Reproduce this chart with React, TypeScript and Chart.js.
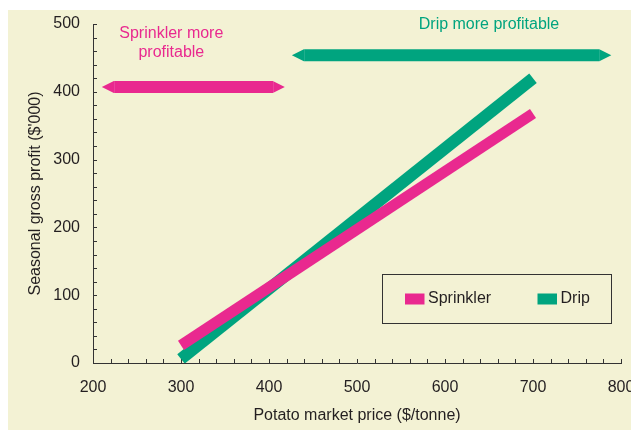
import React, { useEffect, useRef } from "react";
import { Chart, registerables } from "chart.js";

Chart.register(...registerables);

// Axis ranges and labelled tick values
const priceMin = 200;
const priceMax = 800;
const priceStep = 100;
const profitMin = 0;
const profitMax = 500;
const profitStep = 100;
const minorStep = 20;

// Gross profit lines ($'000) against potato price ($/tonne)
const seriesNames = ["Sprinkler", "Drip"];
const seriesColors = ["#e9298f", "#00a47f"];
const seriesWidths = [11, 12];
const prices = [300, 700];
const sprinklerProfit = [26, 368];
const dripProfit = [6, 420];

// Price ranges where each system wins, with the level the arrows sit at
const sprinklerBetterRange = [210, 418];
const sprinklerArrowLevel = 407;
const dripBetterRange = [426, 789];
const dripArrowLevel = 454;

const noteSprinkler = ["Sprinkler more", "profitable"];
const noteDrip = ["Drip more profitable"];

const xTitle = "Potato market price ($/tonne)";
const yTitle = "Seasonal gross profit ($'000)";

const FONT = "'Liberation Sans', Arial, Helvetica, sans-serif";
const TEXT = "#231f20";
const AXIS = "#333333";
const PANEL = "#f3f2d4";

const panelPlugin = {
  id: "panel",
  beforeDraw(chart: any) {
    const { ctx } = chart;
    ctx.save();
    ctx.fillStyle = "#ffffff";
    ctx.fillRect(0, 0, chart.width, chart.height);
    ctx.fillStyle = PANEL;
    ctx.fillRect(8, 10, chart.width - 8, chart.height - 10);
    ctx.restore();
  },
};

const minorTicksPlugin = {
  id: "minorTicks",
  beforeDatasetsDraw(chart: any) {
    const { ctx, chartArea } = chart;
    const xs = chart.scales.x;
    const ys = chart.scales.y;
    const len = 4;
    ctx.save();
    ctx.strokeStyle = AXIS;
    ctx.lineWidth = 1;
    ctx.beginPath();
    for (let v = priceMin; v <= priceMax; v += minorStep) {
      const px = Math.round(xs.getPixelForValue(v)) + 0.5;
      ctx.moveTo(px, chartArea.bottom);
      ctx.lineTo(px, chartArea.bottom - len);
    }
    for (let v = profitMin; v <= profitMax; v += minorStep) {
      const py = Math.round(ys.getPixelForValue(v)) + 0.5;
      ctx.moveTo(chartArea.left, py);
      ctx.lineTo(chartArea.left + len, py);
    }
    ctx.stroke();
    ctx.restore();
  },
};

function drawDoubleArrow(ctx: any, x0: number, x1: number, y: number, color: string) {
  const half = 6;
  const head = 12;
  ctx.fillStyle = color;
  ctx.beginPath();
  ctx.moveTo(x0, y);
  ctx.lineTo(x0 + head, y - half);
  ctx.lineTo(x1 - head, y - half);
  ctx.lineTo(x1, y);
  ctx.lineTo(x1 - head, y + half);
  ctx.lineTo(x0 + head, y + half);
  ctx.closePath();
  ctx.fill();
  // faint seams where the heads meet the shaft
  ctx.strokeStyle = "rgba(255,255,255,0.12)";
  ctx.lineWidth = 1;
  ctx.beginPath();
  ctx.moveTo(Math.round(x0 + head) + 0.5, y - half);
  ctx.lineTo(Math.round(x0 + head) + 0.5, y + half);
  ctx.moveTo(Math.round(x1 - head) + 0.5, y - half);
  ctx.lineTo(Math.round(x1 - head) + 0.5, y + half);
  ctx.stroke();
}

const annotationPlugin = {
  id: "annotations",
  afterDatasetsDraw(chart: any) {
    const { ctx } = chart;
    const xs = chart.scales.x;
    const ys = chart.scales.y;
    ctx.save();
    drawDoubleArrow(
      ctx,
      xs.getPixelForValue(sprinklerBetterRange[0]),
      xs.getPixelForValue(sprinklerBetterRange[1]),
      ys.getPixelForValue(sprinklerArrowLevel),
      seriesColors[0]
    );
    drawDoubleArrow(
      ctx,
      xs.getPixelForValue(dripBetterRange[0]),
      xs.getPixelForValue(dripBetterRange[1]),
      ys.getPixelForValue(dripArrowLevel),
      seriesColors[1]
    );

    ctx.font = `16px ${FONT}`;
    ctx.textAlign = "center";
    ctx.textBaseline = "middle";
    ctx.fillStyle = seriesColors[0];
    const sx = xs.getPixelForValue(289);
    const sy = ys.getPixelForValue(486);
    noteSprinkler.forEach((line, i) => ctx.fillText(line, sx, sy + i * 19.5));
    ctx.fillStyle = seriesColors[1];
    const dx = xs.getPixelForValue(650);
    const dy = ys.getPixelForValue(499);
    noteDrip.forEach((line, i) => ctx.fillText(line, dx, dy + i * 19.5));
    ctx.restore();
  },
};

const legendPlugin = {
  id: "boxLegend",
  afterDraw(chart: any) {
    const { ctx, chartArea } = chart;
    const left = chartArea.right - 238.5;
    const top = chartArea.bottom - 88.5;
    const w = 229;
    const h = 49;
    ctx.save();
    ctx.strokeStyle = AXIS;
    ctx.lineWidth = 1;
    ctx.strokeRect(left, top, w, h);
    ctx.font = `16px ${FONT}`;
    ctx.textBaseline = "middle";
    ctx.textAlign = "left";
    const cy = top + h / 2;
    const offsets = [22.5, 155];
    chart.data.datasets.forEach((ds: any, i: number) => {
      const x = left + offsets[i];
      ctx.fillStyle = ds.borderColor;
      ctx.fillRect(x, cy - 5.5, 19.5, 11);
      ctx.fillStyle = TEXT;
      ctx.fillText(ds.label, x + 23, cy);
    });
    ctx.restore();
  },
};

export default function App() {
  const canvasRef = useRef<HTMLCanvasElement | null>(null);

  useEffect(() => {
    const canvas = canvasRef.current;
    if (!canvas) return;
    const profits = [sprinklerProfit, dripProfit];
    const chart = new Chart(canvas, {
      type: "line",
      data: {
        datasets: seriesNames.map((name, i) => ({
          label: name,
          data: prices.map((p, j) => ({ x: p, y: profits[i][j] })),
          borderColor: seriesColors[i],
          backgroundColor: seriesColors[i],
          borderWidth: seriesWidths[i],
          borderCapStyle: "butt",
          pointRadius: 0,
          fill: false,
          tension: 0,
        })),
      },
      options: {
        responsive: false,
        animation: false,
        events: [],
        layout: { padding: { top: 24, right: 10, left: 0, bottom: 0 } },
        plugins: {
          legend: { display: false },
          tooltip: { enabled: false },
        },
        scales: {
          x: {
            type: "linear",
            min: priceMin,
            max: priceMax,
            ticks: {
              stepSize: priceStep,
              padding: 15,
              color: TEXT,
              maxRotation: 0,
              font: { family: FONT, size: 16 },
            },
            grid: { display: false, drawTicks: false },
            border: { display: true, color: AXIS, width: 1 },
            title: {
              display: true,
              text: xTitle,
              color: TEXT,
              font: { family: FONT, size: 16 },
              padding: { top: 0, bottom: 5 },
            },
            afterFit(scale: any) {
              scale.height = 67;
              scale.paddingLeft = 0;
              scale.paddingRight = 0;
            },
          },
          y: {
            type: "linear",
            min: profitMin,
            max: profitMax,
            ticks: {
              stepSize: profitStep,
              padding: 13,
              color: TEXT,
              font: { family: FONT, size: 16 },
            },
            grid: { display: false, drawTicks: false },
            border: { display: true, color: AXIS, width: 1 },
            title: {
              display: true,
              text: yTitle,
              color: TEXT,
              font: { family: FONT, size: 16 },
              padding: { top: 26, bottom: 0 },
            },
            afterFit(scale: any) {
              scale.width = 93;
              scale.paddingTop = 0;
              scale.paddingBottom = 0;
            },
          },
        },
      },
      plugins: [panelPlugin, minorTicksPlugin, annotationPlugin, legendPlugin],
    } as any);
    return () => chart.destroy();
  }, []);

  return (
    <div style={{ position: "absolute", left: 0, top: 0, width: 631, height: 430 }}>
      <canvas ref={canvasRef} width={631} height={430} style={{ display: "block" }} />
    </div>
  );
}
